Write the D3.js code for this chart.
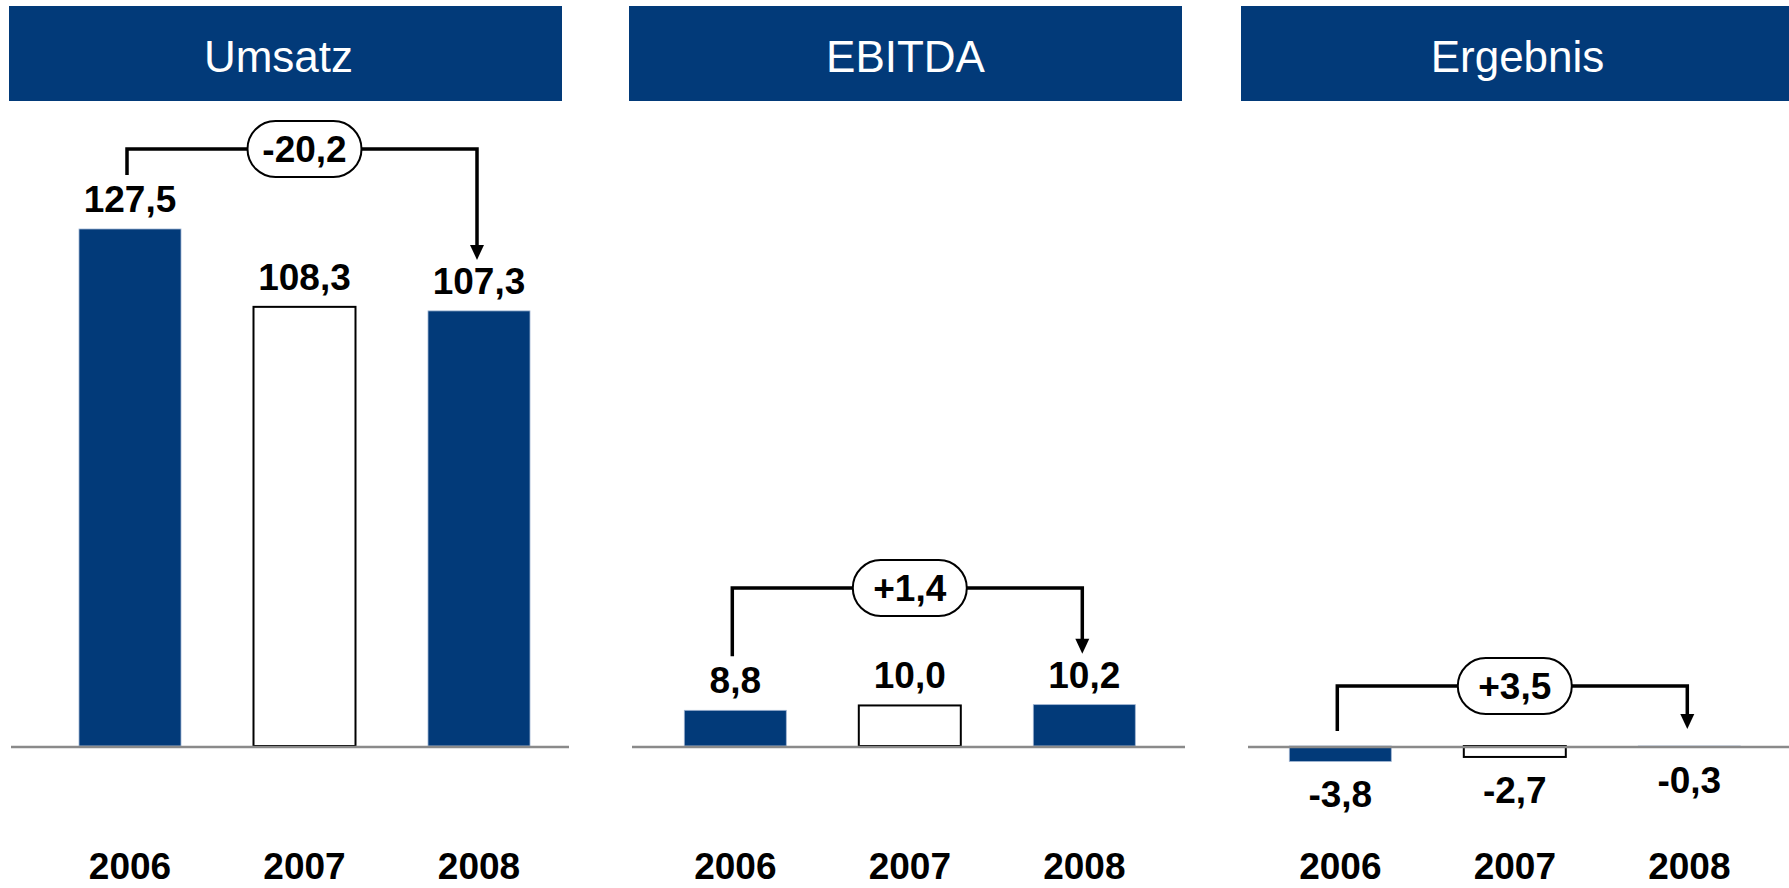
<!DOCTYPE html>
<html>
<head>
<meta charset="utf-8">
<script src="https://cdn.jsdelivr.net/npm/d3@7"></script>
<style>
  html, body { margin: 0; padding: 0; background: #fff; overflow: hidden; }
  svg { display: block; font-family: "Liberation Sans", Arial, sans-serif; }
</style>
</head>
<body>
<div id="chart"></div>
<script>
// data
const years = ['2006', '2007', '2008']
const titles = ['Umsatz', 'EBITDA', 'Ergebnis']
const umsatz = [127.5, 108.3, 107.3]
const ebitda = [8.8, 10.0, 10.2]
const ergebnis = [-3.8, -2.7, -0.3]
const series = [umsatz, ebitda, ergebnis]

// layout
const width = 1789
const height = 888
const navy = '#023a79'
const panelX = [0, 605.3, 1210.3]
const headerX = [9, 629, 1241]
const headerW = 553
const axisX = [[11, 569], [632, 1185], [1248, 1789]]
const bracketY = [149, 588, 686]
const baseY = 746

const de = d3.formatLocale({ decimal: ',', thousands: '.', grouping: [3], currency: ['', ' €'], minus: '-' })
const fmt = de.format('.1f')
const fmtDelta = de.format('+.1f')

const svg = d3.select('#chart').append('svg')
              .attr('width', width)
              .attr('height', height)

// one y scale shared by all panels
const y = d3.scaleLinear()
            .domain([0, d3.max(umsatz)])
            .range([baseY, 229])

const capTop = v => y(v) - 17 - 26

series.forEach((vals, p) => {
    const ox = panelX[p]
    const g = svg.append('g')

    const x = d3.scaleBand()
                .domain(years)
                .range([ox + 42.75, ox + 566.25])
                .paddingInner(0.4155)
                .paddingOuter(0.20775)
    const bw = x.bandwidth()
    const cx = yr => x(yr) + bw / 2

    // header
    g.append('rect')
     .attr('x', headerX[p]).attr('y', 6)
     .attr('width', headerW).attr('height', 95)
     .attr('fill', navy)
    g.append('text')
     .attr('x', headerX[p] + headerW / 2 - (p === 0 ? 7 : 0))
     .attr('y', 72)
     .attr('text-anchor', 'middle')
     .attr('fill', '#fff')
     .attr('font-size', 44)
     .text(titles[p])

    // bars
    g.selectAll('rect.bar')
     .data(vals)
     .join('rect')
     .attr('class', 'bar')
     .attr('x', (d, i) => x(years[i]))
     .attr('y', d => y(Math.max(0, d)))
     .attr('width', bw)
     .attr('height', d => Math.abs(y(d) - y(0)))
     .attr('fill', (d, i) => i === 1 ? '#fff' : navy)
     .attr('stroke', (d, i) => i === 1 ? '#000' : '#9fb4d2')
     .attr('stroke-width', (d, i) => i === 1 ? 2 : 0.8)

    // baseline
    g.append('line')
     .attr('x1', axisX[p][0]).attr('x2', axisX[p][1])
     .attr('y1', baseY + 1).attr('y2', baseY + 1)
     .attr('stroke', '#8a8a8a')
     .attr('stroke-width', 2.5)

    // value labels
    g.selectAll('text.val')
     .data(vals)
     .join('text')
     .attr('class', 'val')
     .attr('x', (d, i) => cx(years[i]))
     .attr('y', d => d >= 0 ? y(d) - 17 : y(d) + 46)
     .attr('text-anchor', 'middle')
     .attr('font-size', 37)
     .attr('font-weight', 'bold')
     .text(d => fmt(d))

    // year axis
    const ax = g.append('g')
                .attr('transform', `translate(0,${879})`)
                .call(d3.axisBottom(x).tickSize(0).tickPadding(0))
    ax.select('.domain').remove()
    ax.selectAll('text')
      .attr('y', 0).attr('dy', 0)
      .attr('fill', '#000')
      .attr('font-size', 37)
      .attr('font-weight', 'bold')
      .attr('font-family', '"Liberation Sans", Arial, sans-serif')

    // change bracket 2006 -> 2008
    const v0 = vals[0]
    const v2 = vals[2]
    const lx = cx(years[0]) - 3
    const rx = cx(years[2]) - 2
    const by = bracketY[p]
    const ly = v0 >= 0 ? capTop(v0) - 11 : baseY - 15
    const tip = v2 >= 0 ? capTop(v2) - 8 : baseY - 17
    const ah = 15
    const aw = 7

    g.append('path')
     .attr('d', `M${lx},${ly}V${by}H${rx}V${tip - ah + 1}`)
     .attr('fill', 'none')
     .attr('stroke', '#000')
     .attr('stroke-width', 3.5)
    g.append('path')
     .attr('d', `M${rx - aw},${tip - ah}L${rx + aw},${tip - ah}L${rx},${tip}Z`)
     .attr('fill', '#000')

    const mx = cx(years[1])
    g.append('rect')
     .attr('x', mx - 57).attr('y', by - 28)
     .attr('width', 114).attr('height', 56)
     .attr('rx', 28).attr('ry', 28)
     .attr('fill', '#fff')
     .attr('stroke', '#000')
     .attr('stroke-width', 2)
    g.append('text')
     .attr('x', mx)
     .attr('y', by + 13)
     .attr('text-anchor', 'middle')
     .attr('font-size', 37)
     .attr('font-weight', 'bold')
     .text(fmtDelta(+(v2 - v0).toFixed(1)))
})
</script>
</body>
</html>
